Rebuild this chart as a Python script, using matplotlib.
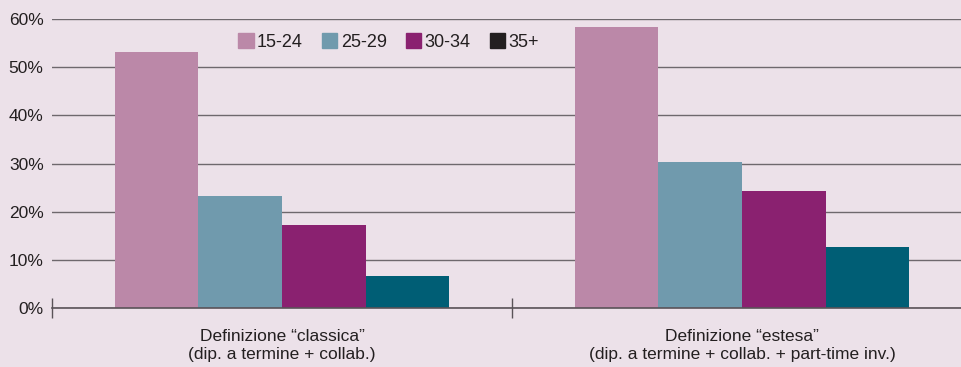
import matplotlib.pyplot as plt
import numpy as np

plt.rcParams['font.family'] = ['Liberation Sans', 'DejaVu Sans']

categories = ['Definizione \u201cclassica\u201d\n(dip. a termine + collab.)',
              'Definizione \u201cestesa\u201d\n(dip. a termine + collab. + part-time inv.)']
age_groups = ['15-24', '25-29', '30-34', '35+']
v_15_24 = [53.1, 58.3]
v_25_29 = [23.2, 30.3]
v_30_34 = [17.2, 24.3]
v_35 = [6.6, 12.7]
yticks = [0, 10, 20, 30, 40, 50, 60]

bar_colors = ['#bb88a8', '#709aad', '#8a2170', '#005e75']
legend_colors = ['#bb88a8', '#709aad', '#8a2170', '#231f20']
bg = '#ece1e9'

fig = plt.figure(figsize=(9.62, 3.67), dpi=100, facecolor=bg)
ax = fig.add_axes([52/962, 59/367, 1 - 52/962, 289/367])
ax.set_facecolor(bg)

centers = np.array([0.5, 1.5])
w = 0.182
series = [v_15_24, v_25_29, v_30_34, v_35]
handles = []
for i, vals in enumerate(series):
    ax.bar(centers + (i - 1.5) * w, vals, width=w, color=bar_colors[i], zorder=3)
    handles.append(plt.Rectangle((0, 0), 1, 1, color=legend_colors[i]))

ax.set_yticks(yticks)
ax.set_yticklabels([f'{t}%' for t in yticks], fontsize=12.5, color='#231f20')
ax.yaxis.grid(True, color='#6e686d', linewidth=1, zorder=0)
ax.tick_params(axis='y', length=0, pad=6)

ax.set_xticks([0, 1, 2])
ax.set_xticklabels([])
ax.tick_params(axis='x', which='major', direction='inout', length=14, width=1, color='#5a5358')
ax.set_xticks(centers, minor=True)
ax.set_xticklabels(categories, minor=True, fontsize=12.5, color='#231f20', linespacing=1.3)
ax.tick_params(axis='x', which='minor', length=0, pad=15)

# limits after the ticks, otherwise set_xticks widens them
ax.set_xlim(0, 910/460)
ax.set_ylim(0, 60)

for s in ['top', 'right', 'left']:
    ax.spines[s].set_visible(False)
ax.spines['bottom'].set_color('#5a5358')
ax.spines['bottom'].set_linewidth(1.2)
ax.spines['bottom'].set_zorder(4)

ax.legend(handles, age_groups, ncol=4, frameon=False, loc='center',
          bbox_to_anchor=(0.37, 0.92), fontsize=13, handlelength=0.85,
          handleheight=0.85, handletextpad=0.2, columnspacing=1.05,
          labelcolor='#231f20')

plt.savefig('out.png', dpi=100, facecolor=bg)
